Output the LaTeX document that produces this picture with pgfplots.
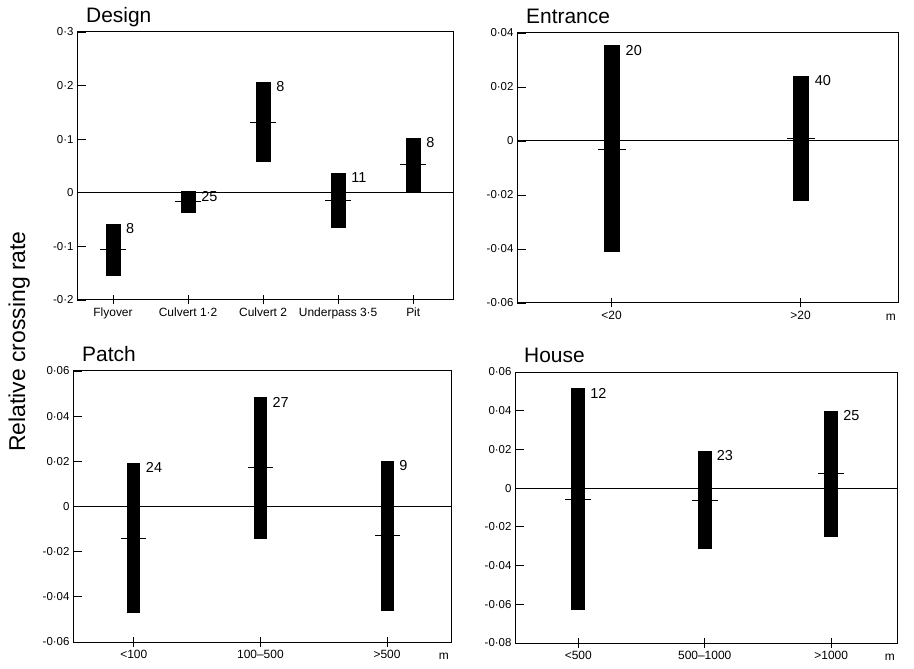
\documentclass[border=0pt]{standalone}
\usepackage{fontspec}
\setmainfont{Liberation Sans}
\usepackage{pgfplots}
\pgfplotsset{compat=1.18}
\pgfplotsset{
  panel/.style={
    scale only axis, anchor=south west, clip=false, scaled y ticks=false,
    axis line style={line width=1bp},
    every tick/.style={black, line width=0.8bp},
    tick pos=left, ytick align=inside, xtick align=center,
    major tick length=9bp,
    yticklabel style={font=\fontsize{11.5}{12}\selectfont},
    xticklabel style={font=\fontsize{12}{13}\selectfont},
    unbounded coords=jump,
  },
  means/.style={black, only marks, mark=-, mark size=13bp, mark options={line width=1bp}},
  counts/.style={draw=none, nodes near coords, point meta=explicit symbolic,
    nodes near coords style={anchor=west, xshift=#1, yshift=-5bp, inner sep=0pt,
      font=\fontsize{14.5}{15}\selectfont}},
  zeroline/.style={black, line width=1bp},
}
\newcommand{\paneltitle}[1]{\node[anchor=base west, inner sep=0pt, xshift=9bp, yshift=9.5bp,
  font=\fontsize{21}{22}\selectfont] at (rel axis cs:0,1) {#1};}
\newcommand{\unitm}{\node[anchor=north east, inner sep=0pt, xshift=-2bp, yshift=-11bp,
  font=\fontsize{12}{13}\selectfont] at (rel axis cs:1,0) {m};}
\begin{document}
\begin{tikzpicture}
\useasboundingbox (0,0) rectangle (914bp,669bp);
% Design
\begin{axis}[panel, at={(77bp,369bp)}, width=376bp, height=268bp,
  xmin=-0.48, xmax=4.53, ymin=-0.2, ymax=0.3,
  ytick={-0.2,-0.1,0,0.1,0.2,0.3}, yticklabels={-0·2,-0·1,0,0·1,0·2,0·3},
  xtick={0,1,2,3,4}, xticklabels={Flyover,Culvert 1·2,Culvert 2,Underpass 3·5,Pit}]
\addplot[zeroline] coordinates {(-0.48,0) (4.53,0)};
\addplot[black, line width=15bp] coordinates {(0,-0.156) (0,-0.0575) (0,nan) (1,-0.038) (1,0.003) (1,nan)
  (2,0.0575) (2,0.207) (2,nan) (3,-0.066) (3,0.037) (3,nan) (4,0.002) (4,0.103)};
\addplot[means] coordinates {(0,-0.106) (1,-0.017) (2,0.132) (3,-0.015) (4,0.053)};
\addplot[counts=13bp] coordinates {(0,-0.0575)[8] (1,0.003)[25] (2,0.207)[8] (3,0.037)[11] (4,0.103)[8]};
\paneltitle{Design}
\end{axis}
% Entrance
\begin{axis}[panel, at={(517bp,366bp)}, width=381bp, height=270bp,
  xmin=-0.5, xmax=1.515, ymin=-0.06, ymax=0.04,
  ytick={-0.06,-0.04,-0.02,0,0.02,0.04}, yticklabels={-0·06,-0·04,-0·02,0,0·02,0·04},
  xtick={0,1}, xticklabels={<20,>20}]
\addplot[zeroline] coordinates {(-0.5,0) (1.515,0)};
\addplot[black, line width=16bp] coordinates {(0,-0.0411) (0,0.0354) (0,nan) (1,-0.0223) (1,0.0241)};
\addplot[means, mark size=14bp] coordinates {(0,-0.003) (1,0.001)};
\addplot[counts=14bp] coordinates {(0,0.0354)[20] (1,0.0241)[40]};
\paneltitle{Entrance}
\unitm
\end{axis}
% Patch
\begin{axis}[panel, at={(73bp,27bp)}, width=378bp, height=271bp,
  xmin=-0.48, xmax=2.505, ymin=-0.06, ymax=0.06,
  ytick={-0.06,-0.04,-0.02,0,0.02,0.04,0.06}, yticklabels={-0·06,-0·04,-0·02,0,0·02,0·04,0·06},
  xtick={0,1,2}, xticklabels={<100,100–500,>500}]
\addplot[zeroline] coordinates {(-0.48,0) (2.505,0)};
\addplot[black, line width=13bp] coordinates {(0,-0.0473) (0,0.0194) (0,nan) (1,-0.0142) (1,0.0483) (1,nan)
  (2,-0.0461) (2,0.0202)};
\addplot[means, mark size=12.5bp] coordinates {(0,-0.014) (1,0.0174) (2,-0.0129)};
\addplot[counts=12bp] coordinates {(0,0.0194)[24] (1,0.0483)[27] (2,0.0202)[9]};
\paneltitle{Patch}
\unitm
\end{axis}
% House
\begin{axis}[panel, at={(515bp,26bp)}, width=382bp, height=271bp,
  xmin=-0.5, xmax=2.52, ymin=-0.08, ymax=0.06,
  ytick={-0.08,-0.06,-0.04,-0.02,0,0.02,0.04,0.06}, yticklabels={-0·08,-0·06,-0·04,-0·02,0,0·02,0·04,0·06},
  xtick={0,1,2}, xticklabels={<500,500–1000,>1000}]
\addplot[zeroline] coordinates {(-0.5,0) (2.52,0)};
\addplot[black, line width=14bp] coordinates {(0,-0.063) (0,0.0515) (0,nan) (1,-0.0316) (1,0.0194) (1,nan)
  (2,-0.0251) (2,0.0399)};
\addplot[means] coordinates {(0,-0.0058) (1,-0.0063) (2,0.0074)};
\addplot[counts=12bp] coordinates {(0,0.0515)[12] (1,0.0194)[23] (2,0.0399)[25]};
\paneltitle{House}
\unitm
\end{axis}
\node[rotate=90, anchor=base, font=\fontsize{23}{24}\selectfont] at (25bp,327.5bp) {Relative crossing rate};
\end{tikzpicture}
\end{document}
